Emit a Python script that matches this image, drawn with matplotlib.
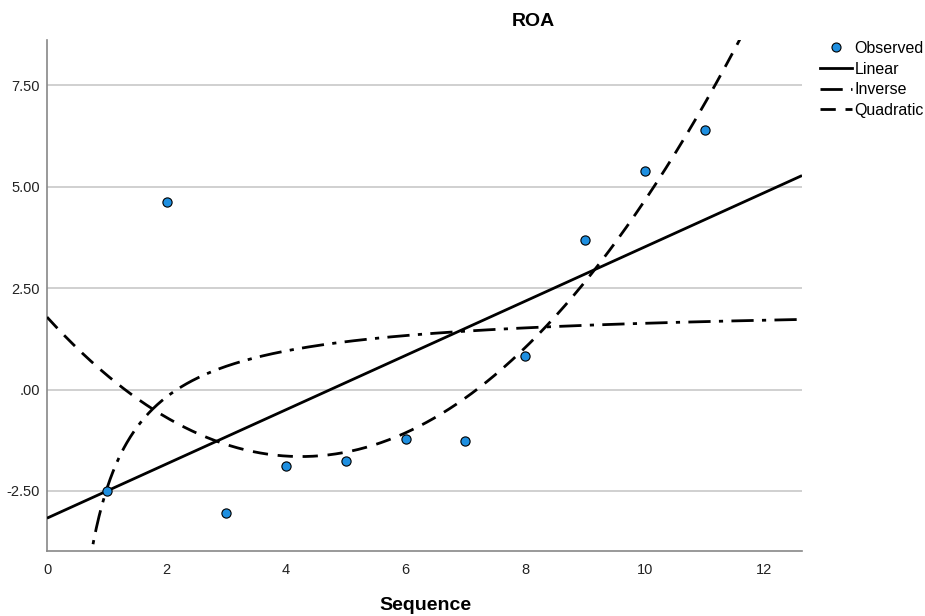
import numpy as np
import matplotlib
matplotlib.use("Agg")
import matplotlib.pyplot as plt
from matplotlib.lines import Line2D
from matplotlib.ticker import FuncFormatter

sequence = [1, 2, 3, 4, 5, 6, 7, 8, 9, 10, 11]
roa = [-2.49, 4.62, -3.04, -1.88, -1.75, -1.23, -1.26, 0.84, 3.68, 5.38, 6.40]

x_ticks = [0, 2, 4, 6, 8, 10, 12]
y_ticks = [-2.5, 0.0, 2.5, 5.0, 7.5]
x_range = (0, 12.63)
y_range = (-3.98, 8.62)

x = np.array(sequence, float)
y = np.array(roa, float)

# Curve estimation fits (as SPSS)
lin = np.polyfit(x, y, 1)
quad = np.polyfit(x, y, 2)
A = np.column_stack([np.ones_like(x), 1.0 / x])
inv = np.linalg.lstsq(A, y, rcond=None)[0]

plt.rcParams['font.family'] = ['Liberation Sans', 'DejaVu Sans']
fig = plt.figure(figsize=(9.25, 6.16), dpi=100)
ax = fig.add_axes([47/925, 1-551/616, (802-47)/925, (551-40)/616])

xs = np.linspace(x_range[0], x_range[1], 600)
xi = np.linspace(0.3, x_range[1], 800)

ax.plot(xs, np.polyval(lin, xs), color='black', lw=2.0, solid_capstyle='butt', zorder=3)
ax.plot(xi, inv[0] + inv[1] / xi, color='black', lw=2.0, dashes=(8, 3, 1.5, 3), zorder=3)
ax.plot(xs, np.polyval(quad, xs), color='black', lw=2.0, dashes=(5.5, 3.5), zorder=3)
ax.scatter(x, y, s=44, color='#1e8fe0', edgecolor='black', linewidth=0.8, zorder=4)

ax.set_xlim(*x_range)
ax.set_ylim(*y_range)
ax.set_xticks(x_ticks)
ax.set_yticks(y_ticks)
ax.yaxis.set_major_formatter(FuncFormatter(lambda v, p: '.00' if abs(v) < 1e-9 else '%.2f' % v))
ax.tick_params(length=0, labelsize=10.5, colors='#222222')
ax.tick_params(axis='y', pad=5)
ax.tick_params(axis='x', pad=9)
for lab in ax.get_xticklabels():
    lab.set_fontfamily(['Liberation Sans Narrow', 'Liberation Sans'])
ax.grid(axis='y', color='#c8c8c8', lw=1.2)
ax.set_axisbelow(True)
for s in ['top', 'right']:
    ax.spines[s].set_visible(False)
for s in ['left', 'bottom']:
    ax.spines[s].set_color('#888888')
    ax.spines[s].set_linewidth(1.2)

fig.text(533/925, 1-22/616, 'ROA', fontsize=14, fontweight='bold', ha='center', va='center')
fig.text(425/925, 1-605/616, 'Sequence', fontsize=14, fontweight='bold', ha='center', va='center')

handles = [
    Line2D([], [], ls='none', marker='o', ms=6.5, mfc='#1e8fe0', mec='black', mew=0.8),
    Line2D([], [], color='black', lw=2.0),
    Line2D([], [], color='black', lw=2.0, dashes=(8, 3, 1.5, 3)),
    Line2D([], [], color='black', lw=2.0, dashes=(5.5, 3.5)),
]
fig.legend(handles, ['Observed', 'Linear', 'Inverse', 'Quadratic'],
           loc='upper left', bbox_to_anchor=(820/925, 1-41/616), frameon=False,
           fontsize=11.5, handlelength=2.0, handletextpad=0.15, labelspacing=0.35,
           borderaxespad=0, borderpad=0)

fig.savefig('out.png', dpi=100)
